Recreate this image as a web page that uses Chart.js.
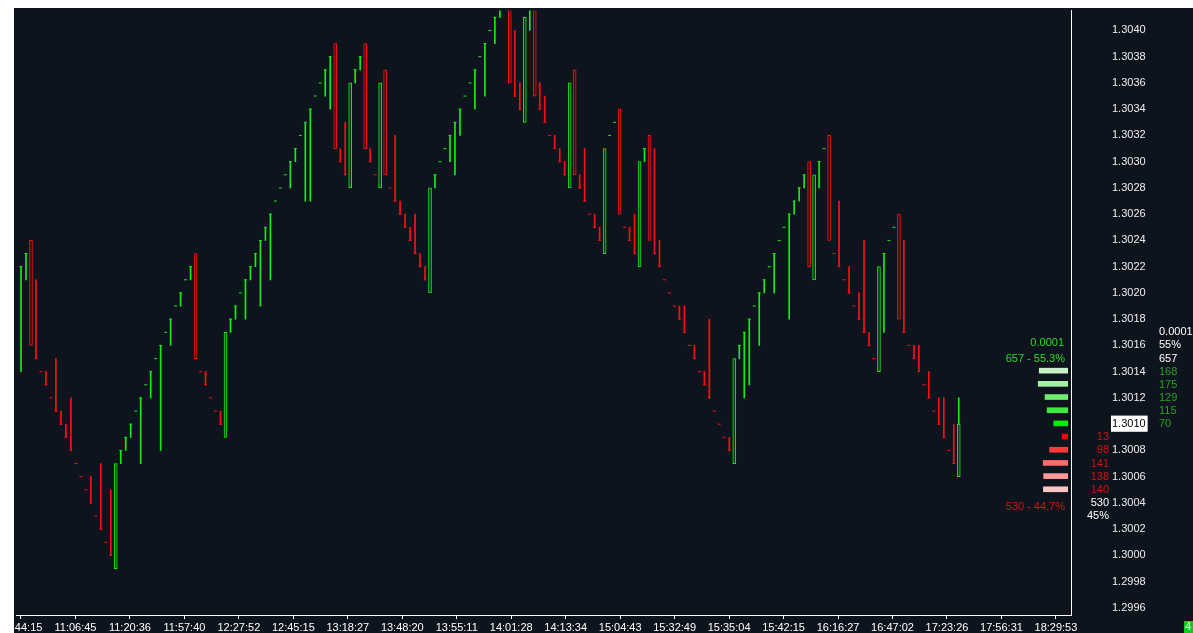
<!DOCTYPE html>
<html><head><meta charset="utf-8">
<script src="https://cdn.jsdelivr.net/npm/chart.js@4.4.1/dist/chart.umd.min.js"></script>
<style>
html,body{margin:0;padding:0;background:#fff;width:1193px;height:633px;overflow:hidden;}
#wrap{position:absolute;left:14px;top:8px;width:1179px;height:625px;background:#0e141e;overflow:hidden;}
#main{position:absolute;left:0;top:0;}
#prof{position:absolute;left:1014px;top:0;}
</style></head><body>
<div id="wrap"><canvas id="main" width="1179" height="625"></canvas><canvas id="prof" width="40" height="607"></canvas></div>
<script>
// ---------- data (prices) ----------
const opens = [
1.3014,1.3021,1.3024,1.3021,1.3014,1.3014,1.3012,1.3015,1.3011,1.3010,
1.3012,1.3007,1.3006,1.3005,1.3006,1.3003,1.3007,1.3001,1.3005,1.2999,
1.3007,1.3008,1.3009,1.3011,1.3007,1.3013,1.3012,1.3015,1.3008,1.3017,
1.3016,1.3019,1.3019,1.3021,1.3021,1.3023,1.3014,1.3014,1.3012,1.3011,
1.3011,1.3009,1.3017,1.3018,1.3020,1.3018,1.3021,1.3022,1.3019,1.3024,
1.3021,1.3027,1.3028,1.3029,1.3028,1.3030,1.3032,1.3027,1.3027,1.3035,
1.3036,1.3035,1.3034,1.3039,1.3031,1.3033,1.3028,1.3036,1.3037,1.3039,
1.3031,1.3029,1.3028,1.3037,1.3028,1.3032,1.3027,1.3026,1.3025,1.3026,
1.3023,1.3022,1.3020,1.3028,1.3030,1.3031,1.3030,1.3029,1.3032,1.3035,
1.3036,1.3034,1.3038,1.3035,1.3040,1.3039,1.3041,1.3044,1.3044,1.3040,
1.3036,1.3033,1.3040,1.3043,1.3036,1.3035,1.3032,1.3032,1.3031,1.3030,
1.3028,1.3037,1.3029,1.3031,1.3026,1.3026,1.3025,1.3023,1.3032,1.3033,
1.3034,1.3025,1.3025,1.3026,1.3022,1.3030,1.3032,1.3031,1.3024,1.3021,
1.3020,1.3019,1.3019,1.3019,1.3016,1.3016,1.3014,1.3014,1.3018,1.3011,
1.3010,1.3009,1.3009,1.3007,1.3015,1.3012,1.3013,1.3019,1.3016,1.3020,
1.3022,1.3020,1.3024,1.3025,1.3018,1.3026,1.3027,1.3028,1.3030,1.3021,
1.3028,1.3031,1.3032,1.3023,1.3027,1.3021,1.3022,1.3019,1.3020,1.3024,
1.3017,1.3015,1.3014,1.3017,1.3024,1.3025,1.3026,1.3024,1.3016,1.3016,
1.3016,1.3013,1.3014,1.3011,1.3012,1.3012,1.3008,1.3010,1.3006
];
const closes = [
1.3022,1.3023,1.3016,1.3015,1.3014,1.3013,1.3012,1.3011,1.3010,1.3009,
1.3008,1.3007,1.3006,1.3005,1.3004,1.3003,1.3002,1.3001,1.3000,1.3007,
1.3008,1.3009,1.3010,1.3011,1.3012,1.3013,1.3014,1.3015,1.3016,1.3017,
1.3018,1.3019,1.3020,1.3021,1.3022,1.3015,1.3014,1.3013,1.3012,1.3011,
1.3010,1.3017,1.3018,1.3019,1.3020,1.3021,1.3022,1.3023,1.3024,1.3025,
1.3026,1.3027,1.3028,1.3029,1.3030,1.3031,1.3032,1.3033,1.3034,1.3035,
1.3036,1.3037,1.3038,1.3031,1.3030,1.3029,1.3036,1.3037,1.3038,1.3031,
1.3030,1.3029,1.3036,1.3029,1.3028,1.3027,1.3026,1.3025,1.3024,1.3023,
1.3022,1.3021,1.3028,1.3029,1.3030,1.3031,1.3032,1.3033,1.3034,1.3035,
1.3036,1.3037,1.3038,1.3039,1.3040,1.3041,1.3043,1.3044,1.3036,1.3035,
1.3034,1.3041,1.3043,1.3035,1.3034,1.3033,1.3032,1.3031,1.3030,1.3029,
1.3036,1.3029,1.3028,1.3027,1.3026,1.3025,1.3024,1.3031,1.3032,1.3033,
1.3026,1.3025,1.3024,1.3023,1.3030,1.3031,1.3024,1.3023,1.3022,1.3021,
1.3020,1.3019,1.3018,1.3017,1.3016,1.3015,1.3014,1.3013,1.3012,1.3011,
1.3010,1.3009,1.3008,1.3015,1.3016,1.3017,1.3018,1.3019,1.3020,1.3021,
1.3022,1.3023,1.3024,1.3025,1.3026,1.3027,1.3028,1.3029,1.3022,1.3029,
1.3030,1.3031,1.3024,1.3023,1.3022,1.3021,1.3020,1.3019,1.3018,1.3017,
1.3016,1.3015,1.3022,1.3023,1.3024,1.3025,1.3018,1.3017,1.3016,1.3015,
1.3014,1.3013,1.3012,1.3011,1.3010,1.3009,1.3008,1.3007,1.3010
];
// bars drawn as wide hollow bodies (completed range bars + the forming bar)
const wideBars = [2,19,35,41,63,66,69,72,73,82,98,101,103,110,111,117,120,124,126,143,158,159,162,172,176,188];
const formingHigh = 1.3012;          // wick of the last (still forming) bar
const currentPrice = 1.3010;

const xTickLabels = ["10:44:15","11:06:45","11:20:36","11:57:40","12:27:52","12:45:15","13:18:27",
  "13:48:20","13:55:11","14:01:28","14:13:34","15:04:43","15:32:49","15:35:04","15:42:15",
  "16:16:27","16:47:02","17:23:26","17:56:31","18:29:53"];
const yTickValues = [1.2996,1.2998,1.3000,1.3002,1.3004,1.3006,1.3008,1.3010,1.3012,1.3014,
  1.3016,1.3018,1.3020,1.3022,1.3024,1.3026,1.3028,1.3030,1.3032,1.3034,1.3036,1.3038,1.3040];

const profileLevels  = [1.3014,1.3013,1.3012,1.3011,1.3010,1.3009,1.3008,1.3007,1.3006,1.3005];
const profileVolumes = [168,175,129,115,70,13,98,141,138,140];
const profileBuy = [true,true,true,true,true,false,false,false,false,false];
const buyTotal = 657, buyPct = "55.3%", buyPctRound = "55%";
const sellTotal = 530, sellPct = "44.7%", sellPctRound = "45%";
const tickSizeLabel = "0.0001";

// ---------- styles ----------
const PIP = 0.0001;
const BG = '#0e141e', GREEN = '#14ee14', RED = '#ff1010', WHITE = '#ffffff';
const profileColors = ['#c6f2c6','#a4f0a4','#70ec70','#3ee83e','#00f000','#ff0000','#ff3a3a','#ff6a6a','#ff9a9a','#ffc4c4'];
const FONT = '"Liberation Sans", Arial, sans-serif';
const Y_MIN = 1.2995462, Y_MAX = 1.3041518;
const X_MIN = -0.9, X_MAX = 210.5, X_TICK_STEP = 10.92;

// ---------- build datasets ----------
const thin = [], thinCol = [], wide = [], wideCol = [], wideFill = [], caps = [], capCol = [];
const last = opens.length - 1;
for (let i = 0; i < opens.length; i++) {
  const o = opens[i], c = closes[i];
  const up = c > o || (c === o && i > 0 && c > closes[i - 1]);
  const col = up ? GREEN : RED;
  if (wideBars.includes(i)) {
    wide.push({x: i, y: [o, c]}); wideCol.push(col); wideFill.push(up ? '#0a3a12' : '#3a0c10');
    if (i === last) { thin.push({x: i, y: [c, formingHigh]}); thinCol.push(col); }
  } else {
    if (c !== o) { thin.push({x: i, y: [o, c]}); thinCol.push(col); }
    caps.push({x: i, y: c}); capCol.push(col);
  }
}

const textPlugin = {
  id: 'texts',
  afterDraw(chart) {
    const ctx = chart.ctx, ys = chart.scales.y, a = chart.chartArea;
    const py = v => ys.getPixelForValue(v);
    const top = profileLevels[0], bot = profileLevels[profileLevels.length - 1];
    ctx.save();
    ctx.font = '11px ' + FONT;
    ctx.textBaseline = 'middle';
    ctx.textAlign = 'right';
    ctx.fillStyle = '#2ed82e';
    ctx.fillText(tickSizeLabel, a.right - 7, py(top + 2 * PIP) - 2);
    ctx.fillText(buyTotal + ' - ' + buyPct, a.right - 6, py(top + PIP));
    ctx.fillStyle = '#d41414';
    ctx.fillText(sellTotal + ' - ' + sellPct, a.right - 6, py(bot - PIP) + 4.5);
    const xr = a.right + 38;
    profileLevels.forEach((lv, k) => {
      if (!profileBuy[k]) { ctx.fillStyle = '#d01414'; ctx.fillText(String(profileVolumes[k]), xr, py(lv)); }
    });
    ctx.fillStyle = WHITE;
    ctx.fillText(String(sellTotal), xr, py(bot - PIP));
    ctx.fillText(sellPctRound, xr, py(bot - 2 * PIP));
    ctx.textAlign = 'left';
    const xl = a.right + 88;
    ctx.fillStyle = WHITE;
    ctx.fillText(tickSizeLabel, xl, py(top + 3 * PIP));
    ctx.fillText(buyPctRound, xl, py(top + 2 * PIP));
    ctx.fillText(String(buyTotal), xl, py(top + PIP));
    ctx.fillStyle = '#22a622';
    profileLevels.forEach((lv, k) => {
      if (profileBuy[k]) ctx.fillText(String(profileVolumes[k]), xl, py(lv));
    });
    ctx.fillStyle = '#14c814';
    ctx.fillRect(chart.width - 9, chart.height - 12, 12, 12);
    ctx.fillStyle = WHITE;
    ctx.fillText('4', chart.width - 8, chart.height - 6);
    ctx.restore();
  }
};

new Chart(document.getElementById('main'), {
  type: 'bar',
  data: {
    datasets: [
      {type: 'bar', data: wide, backgroundColor: wideFill, borderColor: wideCol, borderWidth: 1,
       borderSkipped: false, barThickness: 3, grouped: false, order: 3},
      {type: 'bar', data: thin, backgroundColor: thinCol, borderWidth: 0,
       barThickness: 1, grouped: false, order: 2},
      {type: 'scatter', data: caps, pointStyle: 'line', pointRadius: 1.5, pointHoverRadius: 1.5,
       borderColor: capCol, pointBorderColor: capCol, pointBorderWidth: 1, borderWidth: 1, showLine: false, order: 1}
    ]
  },
  options: {
    responsive: false, animation: false, devicePixelRatio: 1, events: [],
    layout: {padding: 0},
    plugins: {legend: {display: false}, tooltip: {enabled: false}},
    scales: {
      x: {
        type: 'linear', min: X_MIN, max: X_MAX, offset: false,
        grid: {display: true, drawOnChartArea: false, drawTicks: true, tickLength: 4, color: WHITE, offset: false},
        border: {display: true, color: WHITE, width: 1},
        ticks: {color: WHITE, font: {family: FONT, size: 11}, padding: 2, autoSkip: false,
                maxRotation: 0, minRotation: 0, includeBounds: false,
                callback: (v, idx) => xTickLabels[idx]},
        afterBuildTicks: s => { s.ticks = xTickLabels.map((_, k) => ({value: k * X_TICK_STEP})); },
        afterFit: s => { s.height = 18; s.paddingLeft = 0; s.paddingRight = 0; }
      },
      y: {
        type: 'linear', position: 'right', min: Y_MIN, max: Y_MAX,
        grid: {display: true, drawOnChartArea: false, drawTicks: false},
        border: {display: true, color: WHITE, width: 1},
        ticks: {
          padding: 41, font: {family: FONT, size: 11}, autoSkip: false, includeBounds: false,
          color: c => (c.tick && Math.abs(c.tick.value - currentPrice) < 1e-7) ? '#000000' : '#eeeeee',
          showLabelBackdrop: c => !!(c.tick && Math.abs(c.tick.value - currentPrice) < 1e-7),
          backdropColor: '#ffffff',
          backdropPadding: {left: 1, right: 2, top: 2, bottom: 1},
          callback: v => Number(v).toFixed(4)
        },
        afterBuildTicks: s => { s.ticks = yTickValues.map(v => ({value: v})); },
        afterFit: s => { s.width = 122; s.paddingTop = 0; s.paddingBottom = 0; }
      }
    }
  },
  plugins: [textPlugin]
});

// ---------- volume profile (horizontal bars on the same price scale) ----------
const PROFILE_BASE = -26;
new Chart(document.getElementById('prof'), {
  type: 'bar',
  data: {datasets: [{
    data: profileLevels.map((lv, k) => ({x: profileVolumes[k], y: lv})),
    backgroundColor: profileColors, borderWidth: 0, barThickness: 5, base: PROFILE_BASE
  }]},
  options: {
    indexAxis: 'y', responsive: false, animation: false, devicePixelRatio: 1, events: [],
    layout: {padding: 0},
    plugins: {legend: {display: false}, tooltip: {enabled: false}},
    scales: {
      y: {type: 'linear', min: Y_MIN, max: Y_MAX, display: false, offset: false},
      x: {type: 'linear', reverse: true, min: PROFILE_BASE, max: 244, display: false}
    }
  }
});
</script>
</body></html>
